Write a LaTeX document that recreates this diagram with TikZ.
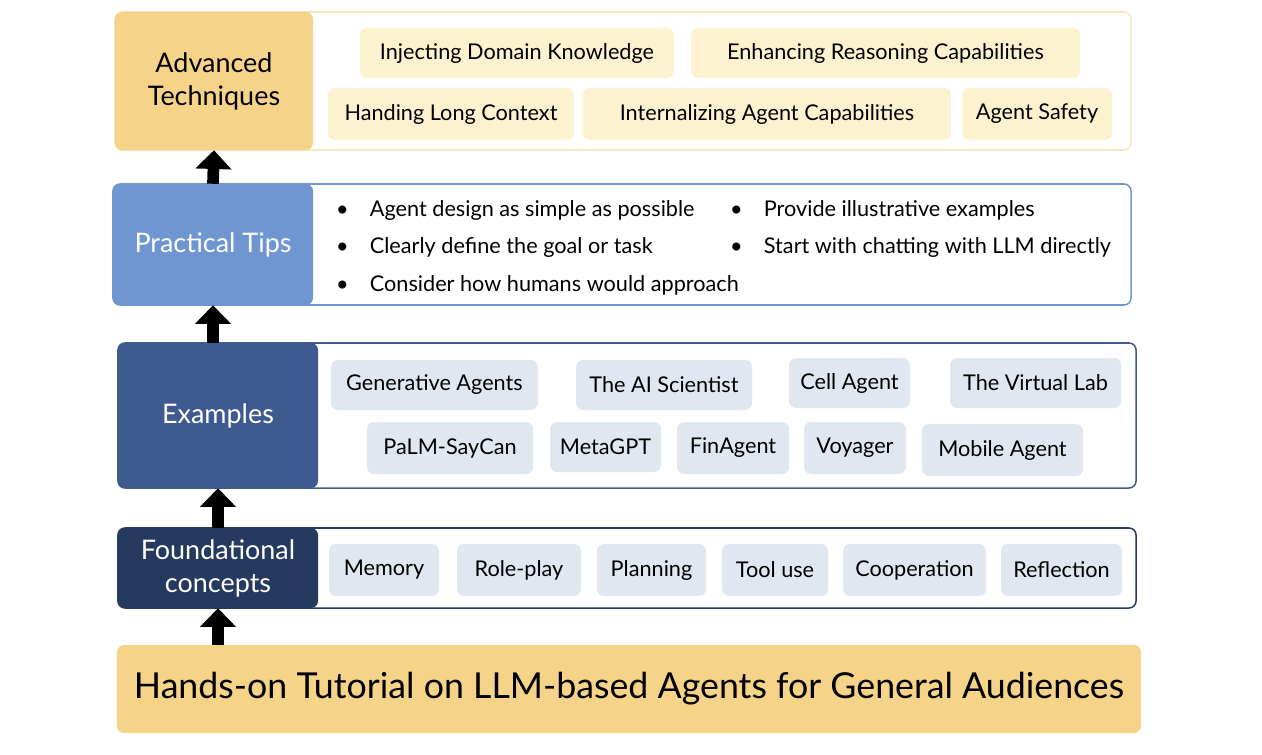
\documentclass[tikz,border=0pt]{standalone}
\usepackage{fontspec}
\setmainfont{Lato}
\usetikzlibrary{arrows.meta}
\definecolor{gold}{HTML}{F5D48A}
\definecolor{goldline}{HTML}{F6E7BC}
\definecolor{goldlight}{HTML}{FDF2D0}
\definecolor{tips}{HTML}{6F96D1}
\definecolor{exm}{HTML}{3E5A8E}
\definecolor{fnd}{HTML}{253A5E}
\definecolor{itemblue}{HTML}{E1E7F0}
\newcommand\itm[7]{%
 \pgfmathsetmacro\cx{(#3+#5)/2}\pgfmathsetmacro\cy{(#4+#6)/2}%
 \pgfmathsetmacro\ww{(#5-#3)*0.8536}\pgfmathsetmacro\hh{(#6-#4)*0.8536}%
 \node[#1,minimum width=\ww pt,minimum height=\hh pt] (#2) at (\cx,\cy) {#7};}
\tikzset{
 base/.style={rounded corners=6pt,inner sep=0pt,align=center},
 outer/.style={base,draw,line width=1.3pt,fill=white},
 lefttxt/.style={base,font=\fontsize{23}{28}\selectfont},
 ylw/.style={base,fill=goldlight,font=\fontsize{18.5}{20}\selectfont},
 blu/.style={base,fill=itemblue,font=\fontsize{18.5}{20}\selectfont},
 bul/.style={anchor=west,inner sep=0pt,font=\fontsize{18.5}{20}\selectfont},
 uparrow/.style={line width=10pt,-{Triangle[length=16pt,width=30pt]},shorten >=0pt}
}
\begin{document}
\begin{tikzpicture}[x=0.03cm,y=-0.03cm]
\useasboundingbox (0,0) rectangle (1262,754);
% Advanced
\itm{outer,draw=goldline}{O1}{115}{12}{1131}{150}{}
\itm{lefttxt,fill=gold}{L1}{115}{12}{313}{150}{Advanced\\Techniques}
\itm{ylw}{a1}{360}{28}{674}{78}{Injecting Domain Knowledge}
\itm{ylw}{a2}{691}{28}{1080}{78}{Enhancing Reasoning Capabilities}
\itm{ylw}{a3}{328}{88}{574}{140}{Handing Long Context}
\itm{ylw}{a4}{583}{88}{951}{140}{Internalizing Agent Capabilities}
\itm{ylw}{a5}{962}{88}{1112}{140}{Agent Safety}
% Tips
\itm{outer,draw=tips}{O2}{113}{184}{1131}{305}{}
\itm{lefttxt,fill=tips,text=white}{L2}{113}{184}{313}{305}{Practical Tips}
\node[bul] (b1) at (336,210) {•\hspace{18pt}Agent design as simple as possible};
\node[bul] (b2) at (336,247) {•\hspace{18pt}Clearly define the goal or task};
\node[bul] (b3) at (336,285) {•\hspace{18pt}Consider how humans would approach};
\node[bul] (b4) at (730,210) {•\hspace{18pt}Provide illustrative examples};
\node[bul] (b5) at (730,247) {•\hspace{18pt}Start with chatting with LLM directly};
% Examples
\itm{outer,draw=exm}{O3}{118}{343}{1136}{488}{}
\itm{lefttxt,fill=exm,text=white}{L3}{118}{343}{318}{488}{Examples}
\itm{blu}{e1}{331}{360}{538}{410}{Generative Agents}
\itm{blu}{e2}{576}{360}{752}{410}{The AI Scientist}
\itm{blu}{e3}{789}{358}{910}{408}{Cell Agent}
\itm{blu}{e4}{950}{358}{1121}{408}{The Virtual Lab}
\itm{blu}{e5}{367}{422}{533}{474}{PaLM-SayCan}
\itm{blu}{e6}{550}{422}{661}{472}{MetaGPT}
\itm{blu}{e7}{677}{422}{789}{474}{FinAgent}
\itm{blu}{e8}{804}{422}{906}{474}{Voyager}
\itm{blu}{e9}{922}{424}{1083}{476}{Mobile Agent}
% Foundational
\itm{outer,draw=fnd}{O4}{118}{528}{1136}{608}{}
\itm{lefttxt,fill=fnd,text=white}{L4}{118}{528}{318}{608}{Foundational\\concepts}
\itm{blu}{f1}{329}{544}{439}{596}{Memory}
\itm{blu}{f2}{457}{544}{581}{596}{Role-play}
\itm{blu}{f3}{597}{544}{706}{596}{Planning}
\itm{blu}{f4}{722}{544}{828}{596}{Tool use}
\itm{blu}{f5}{843}{544}{986}{596}{Cooperation}
\itm{blu}{f6}{1001}{544}{1122}{596}{Reflection}
% Bottom
\itm{base,fill=gold,font=\fontsize{30.5}{32}\selectfont}{B}{117}{645}{1141}{733}{Hands-on Tutorial on LLM-based Agents for General Audiences}
% arrows
\draw[uparrow] (B.north -| L4.south) -- (L4.south);
\draw[uparrow] (L4.north) -- (L3.south);
\draw[uparrow] (L3.north -| L2.south) -- (L2.south);
\draw[uparrow] (L2.north) -- (L1.south);
\end{tikzpicture}
\end{document}
